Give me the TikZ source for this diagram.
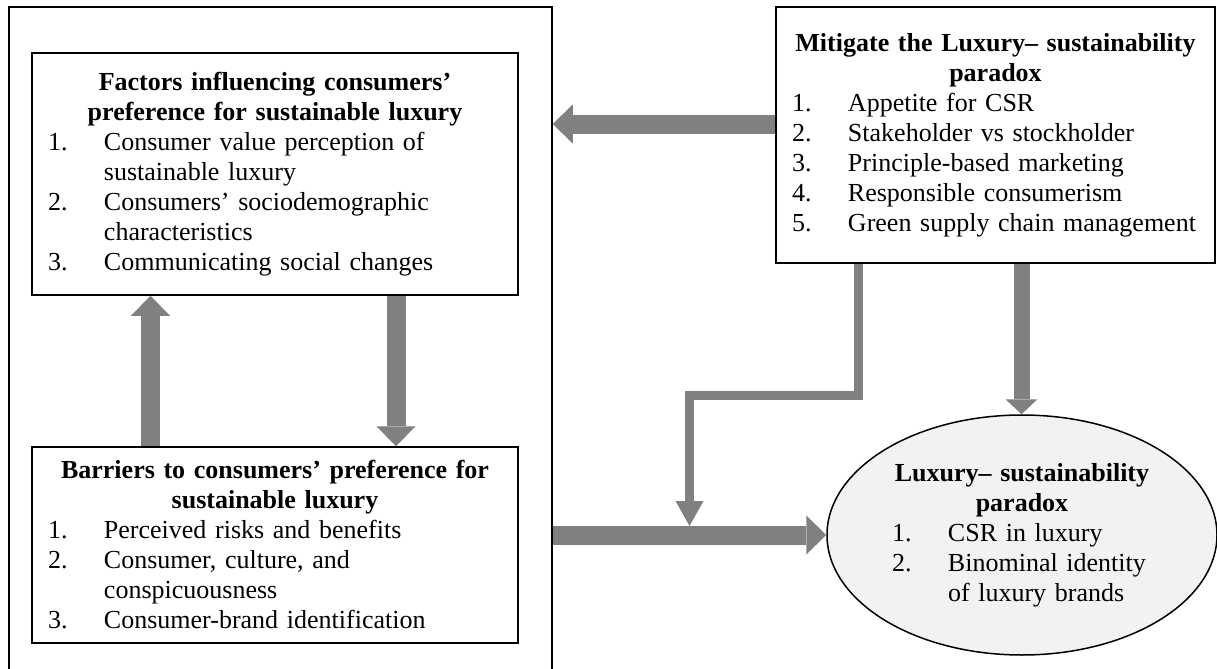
\documentclass[tikz,border=0pt]{standalone}
\usepackage{fontspec}
\setmainfont{Liberation Serif}
\usepackage{tikz}
\usetikzlibrary{shapes.geometric,arrows.meta}
\definecolor{arrowgray}{HTML}{808080}
\definecolor{paradoxgray}{HTML}{F2F2F2}
\setlength{\parindent}{0pt}
\newcommand{\numline}[2]{\makebox[28pt][l]{#1}#2}
\newcommand{\contline}[1]{\hspace*{28pt}#1}
\tikzset{
  frame/.style={draw, line width=0.75pt, inner sep=0pt, minimum width=271.5pt, minimum height=346.5pt},
  panel/.style={draw, line width=0.75pt, inner xsep=8pt, inner ysep=0pt, align=left},
  paradoxnode/.style={ellipse, draw, fill=paradoxgray, line width=0.75pt, inner sep=0pt, align=left, text width=130pt, minimum width=195pt, minimum height=120pt},
  fatarrow/.style={draw=arrowgray, line width=9.5pt, -{Triangle[length=10pt,width=19.5pt,line width=0pt]}},
  midarrow/.style={draw=arrowgray, line width=8pt, -{Triangle[length=7.5pt,width=16pt,line width=0pt]}},
  thinarrow/.style={draw=arrowgray, line width=4.5pt, -{Triangle[length=12.5pt,width=14pt,line width=0pt]}}
}
\begin{document}
\begin{tikzpicture}[x=0.5pt,y=-0.5pt]
\fontsize{13}{15}\selectfont
\useasboundingbox (0,0) rectangle (1217,669);
\clip (0,0) rectangle (1217,669);
\node[frame] (outer) at (280.5,353.5) {};
\node[panel, text width=227pt, minimum width=243pt, minimum height=121pt] (factors) at (275,174) {{\centering\bfseries Factors influencing consumers'\\ preference for sustainable luxury\par}
\numline{1.}{Consumer value perception of}\\
\contline{sustainable luxury}\\
\numline{2.}{Consumers' sociodemographic}\\
\contline{characteristics}\\
\numline{3.}{Communicating social changes}};
\node[panel, text width=227pt, minimum width=243pt, minimum height=98pt] (barriers) at (275,545) {{\centering\bfseries Barriers to consumers' preference for\\ sustainable luxury\par}
\numline{1.}{Perceived risks and benefits}\\
\numline{2.}{Consumer, culture, and}\\
\contline{conspicuousness}\\
\numline{3.}{Consumer-brand identification}};
\node[panel, text width=203.5pt, minimum width=219.5pt, minimum height=128pt] (mitigate) at (995.5,135) {{\centering\bfseries Mitigate the Luxury-- sustainability\\ paradox\par}
\numline{1.}{Appetite for CSR}\\
\numline{2.}{Stakeholder vs stockholder}\\
\numline{3.}{Principle-based marketing}\\
\numline{4.}{Responsible consumerism}\\
\numline{5.}{Green supply chain management}};
\node[paradoxnode] (paradox) at (1022,535) {{\centering\bfseries Luxury-- sustainability\\ paradox\par}
\numline{1.}{CSR in luxury}\\
\numline{2.}{Binominal identity}\\
\contline{of luxury brands}};
\coordinate (lefttip) at ([yshift=5.5pt]mitigate.west);
\draw[fatarrow] (lefttip) -- (lefttip -| outer.east);
\draw[fatarrow] ([xshift=-62.25pt]barriers.north) -- ([xshift=-62.25pt]factors.south);
\draw[fatarrow] ([xshift=60.5pt]factors.south) -- ([xshift=60.5pt]barriers.north);
\draw[fatarrow] (outer.east |- paradox.west) -- (paradox.west);
\draw[midarrow] ([xshift=13pt]mitigate.south) -- ([xshift=13pt]mitigate.south |- paradox.north);
\coordinate (bend) at (689.5,395);
\coordinate (merge) at (689.5,526);
\draw[thinarrow] ([xshift=-68.75pt]mitigate.south) |- (bend) -- (merge);
\end{tikzpicture}
\end{document}
